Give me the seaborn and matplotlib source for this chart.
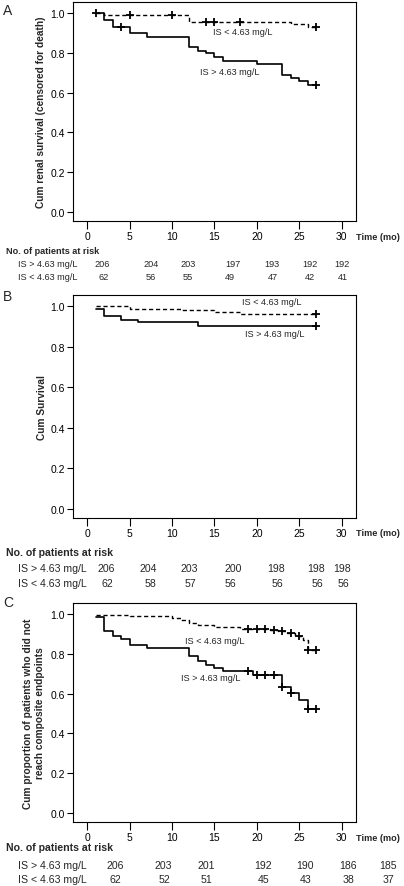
import matplotlib
matplotlib.use("Agg")
import matplotlib.pyplot as plt
import seaborn as sns
import pandas as pd

# ---------------- data ----------------
groups = ["IS > 4.63 mg/L", "IS < 4.63 mg/L"]

# Panel A: renal survival
A_hi_t = [1, 2, 3, 5, 7, 12, 13, 14, 15, 16, 20, 23, 24, 25, 26, 27]
A_hi_s = [1.0, 0.967, 0.93, 0.898, 0.881, 0.828, 0.811, 0.797, 0.781, 0.761, 0.744, 0.689, 0.672, 0.656, 0.64, 0.64]
A_hi_ct = [4, 27]
A_hi_cs = [0.93, 0.64]
A_lo_t = [1, 2, 12, 24, 26, 27]
A_lo_s = [1.0, 0.99, 0.957, 0.945, 0.93, 0.93]
A_lo_ct = [1, 5, 10, 14, 15, 18, 27]
A_lo_cs = [1.0, 0.99, 0.99, 0.957, 0.957, 0.957, 0.93]

# Panel B: survival
B_hi_t = [1, 2, 4, 6, 13, 27]
B_hi_s = [0.984, 0.951, 0.934, 0.921, 0.901, 0.901]
B_hi_ct = [27]
B_hi_cs = [0.901]
B_lo_t = [1, 5, 11, 15, 18, 27]
B_lo_s = [1.0, 0.988, 0.98, 0.97, 0.96, 0.96]
B_lo_ct = [27]
B_lo_cs = [0.96]

# Panel C: composite endpoints
C_hi_t = [1, 2, 3, 4, 5, 7, 12, 13, 14, 15, 16, 19.5, 23, 24, 25, 26, 27]
C_hi_s = [0.983, 0.916, 0.89, 0.874, 0.844, 0.827, 0.79, 0.765, 0.745, 0.731, 0.711, 0.692, 0.632, 0.605, 0.567, 0.523, 0.523]
C_hi_ct = [19, 20, 21, 22, 23, 24, 26, 27]
C_hi_cs = [0.711, 0.692, 0.692, 0.692, 0.632, 0.605, 0.523, 0.523]
C_lo_t = [1, 5, 10, 11, 12, 13, 15, 18, 21.5, 22.5, 23.5, 24.5, 25.5, 26, 27]
C_lo_s = [0.995, 0.99, 0.98, 0.97, 0.955, 0.945, 0.935, 0.925, 0.92, 0.915, 0.905, 0.89, 0.87, 0.82, 0.82]
C_lo_ct = [19, 20, 21, 22, 23, 24, 25, 26, 27]
C_lo_cs = [0.925, 0.925, 0.925, 0.92, 0.915, 0.905, 0.89, 0.82, 0.82]

# numbers at risk
A_risk_hi = [206, 204, 203, 197, 193, 192, 192]
A_risk_lo = [62, 56, 55, 49, 47, 42, 41]
B_risk_hi = [206, 204, 203, 200, 198, 198, 198]
B_risk_lo = [62, 58, 57, 56, 56, 56, 56]
C_risk_hi = [206, 203, 201, 192, 190, 186, 185]
C_risk_lo = [62, 52, 51, 45, 43, 38, 37]

x_ticks = [0, 5, 10, 15, 20, 25, 30]
y_ticks = [0.0, 0.2, 0.4, 0.6, 0.8, 1.0]

# ---------------- layout ----------------
W, H = 404, 887
sns.set_style("ticks")
plt.rcParams["font.family"] = ["Liberation Sans", "DejaVu Sans"]
plt.rcParams["axes.linewidth"] = 0.8

fig = plt.figure(figsize=(W / 100, H / 100), dpi=100)


def fx(x):
    return x / W


def fy(y):
    return 1 - y / H


def make_axes(top, bottom, left=73, right=356):
    return fig.add_axes([fx(left), fy(bottom), (right - left) / W, (bottom - top) / H])


panels = [
    dict(top=3, bottom=222, letter="A", letter_y=11,
         ylabel="Cum renal survival (censored for death)", ylab_x=-0.096,
         hi=(A_hi_t, A_hi_s, A_hi_ct, A_hi_cs), lo=(A_lo_t, A_lo_s, A_lo_ct, A_lo_cs),
         lo_text=(14.8, 0.905), hi_text=(13.3, 0.705),
         time_y=237, head_y=252, row_y=(265, 278), table_fs=6.6, head_fs=6.6,
         risk=(A_risk_hi, A_risk_lo),
         pos_hi=[101.7, 150.7, 188.3, 233.3, 271.7, 310, 341.7],
         pos_lo=[104, 151, 188, 230, 272.7, 310, 343.3]),
    dict(top=296, bottom=519, letter="B", letter_y=297,
         ylabel="Cum Survival", ylab_x=-0.093,
         hi=(B_hi_t, B_hi_s, B_hi_ct, B_hi_cs), lo=(B_lo_t, B_lo_s, B_lo_ct, B_lo_cs),
         lo_text=(18.2, 1.025), hi_text=(18.6, 0.863),
         time_y=534, head_y=553, row_y=(569, 584), table_fs=7.6, head_fs=7.6,
         risk=(B_risk_hi, B_risk_lo),
         pos_hi=[106.7, 148.3, 189.3, 233.3, 276, 316, 341.7],
         pos_lo=[107.3, 150.7, 190, 230.7, 277.7, 317.3, 343.3]),
    dict(top=604, bottom=823, letter="C", letter_y=603,
         ylabel="Cum proportion of patients who did not\nreach composite endpoints", ylab_x=-0.1,
         hi=(C_hi_t, C_hi_s, C_hi_ct, C_hi_cs), lo=(C_lo_t, C_lo_s, C_lo_ct, C_lo_cs),
         lo_text=(11.5, 0.865), hi_text=(11.1, 0.68),
         time_y=839, head_y=848, row_y=(866, 880), table_fs=7.6, head_fs=7.6,
         risk=(C_risk_hi, C_risk_lo),
         pos_hi=[115, 163.3, 206.7, 263.3, 305, 348.3, 388.3],
         pos_lo=[115, 164, 206.7, 263.3, 305.7, 348.3, 388.3]),
]

for p in panels:
    ax = make_axes(p["top"], p["bottom"])
    hi_t, hi_s, hi_ct, hi_cs = p["hi"]
    lo_t, lo_s, lo_ct, lo_cs = p["lo"]
    d_hi = pd.DataFrame({"time": hi_t, "surv": hi_s})
    d_lo = pd.DataFrame({"time": lo_t, "surv": lo_s})
    sns.lineplot(data=d_hi, x="time", y="surv", ax=ax, color="black", lw=1.2,
                 drawstyle="steps-post", estimator=None, sort=False)
    sns.lineplot(data=d_lo, x="time", y="surv", ax=ax, color="black", lw=1.0,
                 drawstyle="steps-post", estimator=None, sort=False, linestyle=(0, (3, 2)))
    c_hi = pd.DataFrame({"time": hi_ct, "surv": hi_cs})
    c_lo = pd.DataFrame({"time": lo_ct, "surv": lo_cs})
    for c in (c_hi, c_lo):
        sns.scatterplot(data=c, x="time", y="surv", ax=ax, marker="+", s=40,
                        color="black", linewidth=1.3, zorder=5)
    ax.set_xlim(-1.69, 31.7)
    ax.set_ylim(-0.045, 1.055)
    ax.set_xticks(x_ticks)
    ax.set_yticks(y_ticks)
    ax.set_xticklabels([str(v) for v in x_ticks])
    ax.set_yticklabels([f"{v:.1f}" for v in y_ticks])
    ax.tick_params(axis="x", length=5.5, width=0.8, pad=2, labelsize=7.5, colors="black")
    ax.tick_params(axis="y", length=4, width=0.8, pad=2, labelsize=7.5, colors="black")
    for s in ax.spines.values():
        s.set_visible(True)
        s.set_color("black")
        s.set_linewidth(0.8)
    ax.set_xlabel("")
    ax.set_ylabel(p["ylabel"], fontsize=7.3, fontweight="bold", linespacing=1.25)
    ax.yaxis.set_label_coords(p["ylab_x"], 0.5)
    ax.text(p["lo_text"][0], p["lo_text"][1], groups[1], fontsize=6.6, va="center", ha="left")
    ax.text(p["hi_text"][0], p["hi_text"][1], groups[0], fontsize=6.6, va="center", ha="left")

    fig.text(fx(3), fy(p["letter_y"]), p["letter"], fontsize=10, va="center", ha="left")
    fig.text(fx(356), fy(p["time_y"]), "Time (mo)", fontsize=6.6, fontweight="bold",
             va="center", ha="left")
    fig.text(fx(6), fy(p["head_y"]), "No. of patients at risk", fontsize=p["head_fs"],
             fontweight="bold", va="center", ha="left")
    for gi, (g, vals, pos) in enumerate(zip(groups, p["risk"], (p["pos_hi"], p["pos_lo"]))):
        yy = p["row_y"][gi]
        fig.text(fx(18), fy(yy), g, fontsize=p["table_fs"], va="center", ha="left")
        for v, xp in zip(vals, pos):
            fig.text(fx(xp), fy(yy), str(v), fontsize=p["table_fs"], va="center", ha="center")

fig.savefig("out.png", dpi=100, facecolor="white")
